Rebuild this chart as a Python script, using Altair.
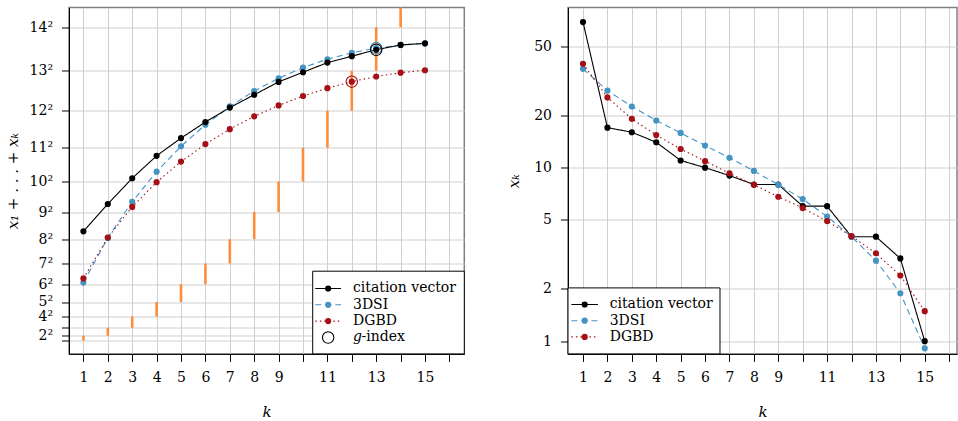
import altair as alt
import numpy as np
import pandas as pd

# ---- data -------------------------------------------------------------
k = list(range(1, 16))
citation = [69, 17, 16, 14, 11, 10, 9, 8, 8, 6, 6, 4, 4, 3, 1]
dsi3 = [37.1, 27.8, 22.5, 18.7, 15.85, 13.4, 11.4, 9.57, 7.97, 6.59, 5.23, 4.0, 2.91, 1.89, 0.91]
dgbd = [39.7, 25.4, 19.1, 15.4, 12.8, 10.9, 9.27, 7.97, 6.8, 5.85, 4.92, 4.03, 3.21, 2.39, 1.49]

series_names = ["citation vector", "3DSI", "DGBD"]
series_values = [citation, dsi3, dgbd]
series_colors = ["#000000", "#4393c3", "#a50f15"]
series_dashes = [[1, 0], [6, 4], [1.5, 3]]

square_roots = list(range(1, 15))          # left y ticks sit at r^2
hidden_roots = [1, 3]                      # ticks without a label
x_ticks = list(range(1, 17))
x_hidden = [10, 12, 14, 16]
log_ticks = [1, 2, 5, 10, 20, 50]

FONT = "DejaVu Serif"
ORANGE = "#fd8d3c"

# ---- derived tables ---------------------------------------------------
rows, rings = [], []
for name, vals in zip(series_names, series_values):
    cum = np.cumsum(vals)
    for kk, v, c in zip(k, vals, cum):
        rows.append({"series": name, "k": kk, "x": v, "cum": float(c)})
    g = max(kk for kk, c in zip(k, cum) if c >= kk * kk)
    rings.append({"series": name, "k": g, "cum": float(cum[g - 1])})
df = pd.DataFrame(rows)
df_rings = pd.DataFrame(rings)
df_bars = pd.DataFrame({"k": k, "lo": [kk * kk for kk in k], "hi": [(kk + 1) ** 2 for kk in k]})

# ---- sizes ------------------------------------------------------------
W_L, W_R, H = 395.3, 389, 346.4
XDOM_L = [0.41, 16.61]
XDOM_R = [0.385, 0.385 + W_R / 24.41]
YDOM_L = [-7.3, 208.3]
YDOM_R = [0.845, 83.7]

x_label_expr = "indexof(%s, datum.value) >= 0 ? '' : datum.label" % x_hidden
y_label_expr = ("indexof(%s, sqrt(datum.value)) >= 0 ? '' : format(sqrt(datum.value), 'd') + '\u00b2'"
                % hidden_roots)


def x_axis():
    return alt.Axis(values=x_ticks, labelExpr=x_label_expr, title="k",
                    titleY=58, titleBaseline="middle")


def xenc(dom):
    return alt.X("k:Q", scale=alt.Scale(domain=dom, nice=False, zero=False), axis=x_axis())


def yenc_left(field):
    return alt.Y(f"{field}:Q", scale=alt.Scale(domain=YDOM_L, nice=False, zero=False),
                 axis=alt.Axis(values=[r * r for r in square_roots], labelExpr=y_label_expr,
                               title="x\u2081 + . . . + x\u2096", titleX=-57, titleY=H / 2,
                               titleBaseline="middle"))


def yenc_right(field):
    return alt.Y(f"{field}:Q", scale=alt.Scale(type="log", domain=YDOM_R, nice=False),
                 axis=alt.Axis(values=log_ticks, format="d", title="x\u2096",
                               titleX=-54.3, titleY=H / 2, titleBaseline="middle"))


def series_layers(xdom, yfun, field, order):
    out = []
    for i in order:
        sub = df[df.series == series_names[i]]
        base = alt.Chart(sub).encode(x=xenc(xdom), y=yfun(field))
        out.append(base.mark_line(color=series_colors[i], strokeWidth=1.1,
                                  strokeDash=series_dashes[i]))
        out.append(base.mark_circle(color=series_colors[i], size=38, opacity=1))
    return out


def legend_layers(box, rows_y, x_line, x_text, entries):
    one = pd.DataFrame({"a": [0]})
    out = [alt.Chart(one).mark_rect(fill="white", stroke="black", strokeWidth=1).encode(
        x=alt.value(box[0]), x2=alt.value(box[1]), y=alt.value(box[2]), y2=alt.value(box[3]))]
    for yy, (label, color, dash, kind) in zip(rows_y, entries):
        xm = (x_line[0] + x_line[1]) / 2
        if kind == "series":
            out.append(alt.Chart(one).mark_rule(color=color, strokeWidth=1.1, strokeDash=dash).encode(
                x=alt.value(x_line[0]), x2=alt.value(x_line[1]), y=alt.value(yy)))
            out.append(alt.Chart(one).mark_circle(color=color, size=38, opacity=1).encode(
                x=alt.value(xm), y=alt.value(yy)))
            out.append(alt.Chart(one).mark_text(text=label, align="left", baseline="middle",
                                                font=FONT, fontSize=14, color="black").encode(
                x=alt.value(x_text), y=alt.value(yy)))
        else:
            out.append(alt.Chart(one).mark_point(shape="circle", filled=False, color="black",
                                                 size=130, strokeWidth=1.1, opacity=1).encode(
                x=alt.value(xm), y=alt.value(yy)))
            out.append(alt.Chart(one).mark_text(text="g", align="left", baseline="middle",
                                                font=FONT, fontSize=14, fontStyle="italic",
                                                color="black").encode(
                x=alt.value(x_text), y=alt.value(yy)))
            out.append(alt.Chart(one).mark_text(text="-index", align="left", baseline="middle",
                                                font=FONT, fontSize=14, color="black").encode(
                x=alt.value(x_text + 8.5), y=alt.value(yy)))
    return out


series_entries = [(n, c, d, "series") for n, c, d in zip(series_names, series_colors, series_dashes)]

# ---- left panel: cumulative sums --------------------------------------
bars = alt.Chart(df_bars).mark_rule(color=ORANGE, strokeWidth=2.6, clip=True).encode(
    x=xenc(XDOM_L), y=yenc_left("lo"), y2="hi:Q")

ring_layers = []
for i in [1, 0, 2]:
    sub = df_rings[df_rings.series == series_names[i]]
    ring_layers.append(alt.Chart(sub).mark_point(shape="circle", filled=False, size=130,
                                                 strokeWidth=1.1, color=series_colors[i],
                                                 opacity=1).encode(
        x=xenc(XDOM_L), y=yenc_left("cum")))

left = alt.layer(
    bars,
    *series_layers(XDOM_L, yenc_left, "cum", [1, 2, 0]),
    *ring_layers,
    *legend_layers([243.7, W_L, 263.7, H], [281, 297.3, 313.6, 330], [246.3, 272], 284,
                   series_entries + [("g-index", "black", None, "ring")]),
).properties(width=W_L, height=H)

# ---- right panel: individual values on a log scale --------------------
right = alt.layer(
    *series_layers(XDOM_R, yenc_right, "x", [0, 1, 2]),
    *legend_layers([0, 152, 280.4, H], [297, 313.2, 329.4], [3.4, 30], 41.7, series_entries),
).properties(width=W_R, height=H)

chart = alt.hconcat(left, right, spacing=39).properties(
    padding={"left": 4, "top": 6.5, "right": 0, "bottom": 0}
).configure_view(
    stroke="#808080", strokeWidth=1.5
).configure_axis(
    domainColor="black", domainWidth=1, tickColor="black", tickWidth=1, tickSize=7.5,
    gridColor="#cfcfcf", gridWidth=1, labelFont=FONT, labelFontSize=14, labelColor="black",
    labelPadding=9, titleFont=FONT, titleFontSize=15, titleFontStyle="italic",
    titleFontWeight="normal", titleColor="black", labelFlush=False, labelOverlap=False
)

chart.save("out.html", embed_options={"renderer": "svg", "actions": False})
